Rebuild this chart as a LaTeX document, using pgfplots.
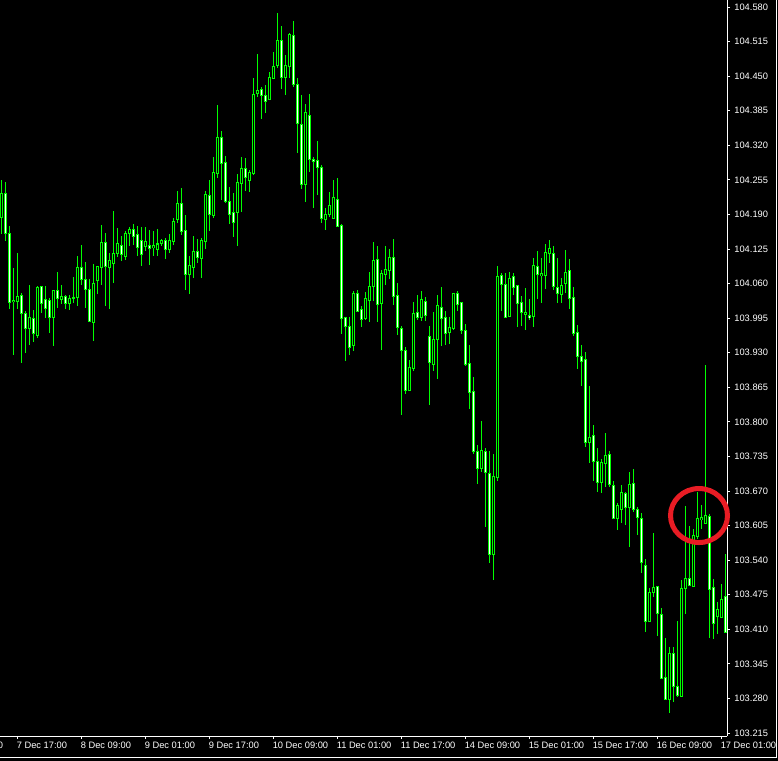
\documentclass[border=0pt]{standalone}
\usepackage{pgfplots}
\pgfplotsset{compat=1.18}
\usepackage{pgfplotstable}
\usepackage{fontspec}
\setmainfont{Liberation Sans}
\definecolor{candle}{RGB}{0,255,0}
\definecolor{ringred}{RGB}{232,28,36}
\pgfplotstableread{
k o h l c
-4 104.185 104.255 104.153 104.230
-3 104.230 104.253 104.142 104.155
-2 104.155 104.170 104.014 104.025
-1 104.027 104.089 103.926 104.029
0 104.027 104.118 104.014 104.037
1 104.039 104.042 103.911 104.005
2 104.005 104.010 103.930 103.977
3 103.975 104.059 103.945 103.997
4 103.995 104.009 103.950 103.967
5 103.963 104.056 103.958 104.054
6 104.056 104.056 104.005 104.024
7 104.031 104.056 103.995 104.014
8 104.029 104.033 103.967 103.997
9 103.997 104.050 103.945 104.048
10 104.048 104.082 104.016 104.033
11 104.031 104.058 104.022 104.037
12 104.037 104.039 104.012 104.024
13 104.024 104.041 104.012 104.033
14 104.033 104.074 104.024 104.033
15 104.033 104.112 104.018 104.091
16 104.091 104.135 104.058 104.069
17 104.069 104.101 104.014 104.050
18 104.050 104.069 103.988 103.990
19 103.988 104.099 103.954 104.061
20 104.065 104.093 104.042 104.093
21 104.091 104.170 104.058 104.138
22 104.138 104.155 104.018 104.093
23 104.091 104.118 104.014 104.103
24 104.099 104.197 104.063 104.118
25 104.118 104.165 104.110 104.135
26 104.133 104.150 104.103 104.116
27 104.112 104.161 104.106 104.155
28 104.155 104.167 104.131 104.163
29 104.163 104.172 104.133 104.150
30 104.153 104.170 104.112 104.127
31 104.142 104.168 104.095 104.114
32 104.131 104.168 104.123 104.140
33 104.133 104.161 104.095 104.127
34 104.127 104.159 104.112 104.131
35 104.125 104.163 104.112 104.136
36 104.136 104.146 104.133 104.142
37 104.142 104.146 104.106 104.125
38 104.125 104.153 104.118 104.142
39 104.140 104.183 104.133 104.176
40 104.180 104.234 104.174 104.210
41 104.212 104.240 104.151 104.159
42 104.161 104.189 104.048 104.078
43 104.078 104.112 104.042 104.095
44 104.091 104.151 104.072 104.121
45 104.121 104.144 104.099 104.110
46 104.108 104.146 104.072 104.142
47 104.140 104.234 104.125 104.228
48 104.227 104.255 104.159 104.191
49 104.189 104.298 104.183 104.270
50 104.268 104.396 104.260 104.336
51 104.336 104.347 104.219 104.287
52 104.289 104.300 104.212 104.215
53 104.215 104.242 104.174 104.191
54 104.195 104.232 104.148 104.176
55 104.195 104.266 104.131 104.251
56 104.249 104.298 104.195 104.276
57 104.276 104.298 104.236 104.260
58 104.255 104.274 104.232 104.270
59 104.268 104.448 104.266 104.417
60 104.418 104.492 104.411 104.424
61 104.426 104.430 104.370 104.415
62 104.415 104.433 104.381 104.403
63 104.407 104.458 104.405 104.448
64 104.447 104.495 104.447 104.469
65 104.471 104.569 104.467 104.518
66 104.518 104.546 104.426 104.448
67 104.448 104.490 104.415 104.471
68 104.469 104.533 104.448 104.529
69 104.527 104.554 104.431 104.435
70 104.435 104.448 104.307 104.362
71 104.360 104.417 104.240 104.247
72 104.247 104.400 104.215 104.381
73 104.377 104.418 104.270 104.294
74 104.294 104.298 104.202 104.291
75 104.292 104.328 104.227 104.279
76 104.279 104.283 104.174 104.182
77 104.182 104.202 104.161 104.191
78 104.191 104.232 104.185 104.208
79 104.183 104.255 104.182 104.223
80 104.219 104.259 104.167 104.168
81 104.170 104.172 103.965 103.994
82 103.997 103.997 103.915 103.980
83 103.980 103.997 103.926 103.941
84 103.943 104.048 103.935 104.041
85 104.042 104.048 104.007 104.009
86 104.012 104.018 103.978 103.994
87 103.994 104.044 103.992 104.033
88 104.029 104.082 103.988 104.056
89 104.056 104.140 104.029 104.104
90 104.106 104.131 103.988 104.022
91 104.024 104.086 103.935 104.080
92 104.078 104.131 104.059 104.086
93 104.086 104.125 104.069 104.110
94 104.110 104.144 104.020 104.037
95 104.039 104.063 103.965 103.978
96 103.978 103.980 103.813 103.935
97 103.935 103.942 103.853 103.860
98 103.860 103.918 103.860 103.903
99 103.900 104.027 103.898 104.005
100 104.005 104.039 103.992 103.997
101 103.997 104.048 103.990 104.031
102 104.027 104.037 103.992 104.001
103 103.962 103.982 103.832 103.913
104 103.909 104.009 103.898 103.956
105 103.956 104.039 103.881 104.020
106 104.016 104.054 103.943 103.995
107 103.997 104.009 103.945 103.967
108 103.969 103.997 103.947 103.978
109 103.977 104.044 103.975 104.042
110 104.042 104.048 104.010 104.022
111 104.025 104.025 103.965 103.971
112 103.973 103.984 103.905 103.909
113 103.911 103.946 103.826 103.856
114 103.856 103.884 103.740 103.743
115 103.745 103.757 103.685 103.713
116 103.713 103.802 103.706 103.747
117 103.745 103.753 103.604 103.706
118 103.704 103.747 103.537 103.552
119 103.550 103.740 103.503 103.698
120 103.696 104.095 103.689 104.074
121 104.076 104.080 104.009 104.059
122 104.059 104.080 103.995 103.997
123 103.999 104.084 103.999 104.072
124 104.074 104.080 104.039 104.054
125 104.056 104.058 103.980 104.022
126 104.025 104.037 103.980 104.005
127 104.003 104.054 103.975 104.007
128 104.001 104.031 103.992 103.997
129 103.999 104.110 103.980 104.095
130 104.093 104.121 104.031 104.078
131 104.076 104.110 104.024 104.080
132 104.076 104.135 104.050 104.119
133 104.118 104.142 104.099 104.127
134 104.116 104.131 104.048 104.054
135 104.054 104.108 104.025 104.041
136 104.041 104.072 104.024 104.058
137 104.059 104.123 104.042 104.080
138 104.086 104.106 104.012 104.033
139 104.033 104.056 103.963 103.967
140 103.969 103.984 103.901 103.924
141 103.924 103.945 103.869 103.915
142 103.918 103.933 103.753 103.762
143 103.762 103.868 103.723 103.772
144 103.775 103.794 103.689 103.727
145 103.727 103.751 103.668 103.687
146 103.687 103.732 103.668 103.725
147 103.723 103.779 103.678 103.738
148 103.738 103.745 103.678 103.681
149 103.681 103.689 103.618 103.619
150 103.619 103.649 103.597 103.644
151 103.636 103.681 103.610 103.668
152 103.666 103.670 103.608 103.640
153 103.640 103.706 103.565 103.683
154 103.685 103.713 103.631 103.636
155 103.636 103.640 103.587 103.621
156 103.619 103.629 103.516 103.535
157 103.531 103.542 103.405 103.426
158 103.426 103.488 103.424 103.480
159 103.480 103.593 103.471 103.490
160 103.492 103.493 103.399 103.441
161 103.439 103.450 103.317 103.320
162 103.320 103.394 103.279 103.279
163 103.279 103.377 103.253 103.366
164 103.366 103.378 103.273 103.304
165 103.304 103.426 103.283 103.287
166 103.285 103.503 103.283 103.488
167 103.488 103.642 103.439 103.507
168 103.507 103.606 103.492 103.493
169 103.492 103.599 103.492 103.587
170 103.585 103.670 103.580 103.619
171 103.617 103.644 103.599 103.621
172 103.610 103.907 103.608 103.625
173 103.623 103.627 103.394 103.486
174 103.490 103.505 103.392 103.422
175 103.433 103.463 103.403 103.446
176 103.433 103.495 103.433 103.467
177 103.471 103.552 103.403 103.405
}\candles
\newcommand{\lblfont}{\fontsize{4.65pt}{5pt}\selectfont}
\begin{document}
\begin{tikzpicture}
\useasboundingbox (0pt,0pt) rectangle (389pt,-380.5pt);
\fill[black] (0pt,0pt) rectangle (389pt,-380.5pt);
\begin{axis}[
  at={(0pt,0pt)}, anchor=north west,
  scale only axis, width=363.5pt, height=368pt,
  xmin=-4.25, xmax=177.5,
  ymin=103.2095, ymax=104.5932,
  axis background/.style={fill=black},
  axis x line*=bottom, axis y line*=right,
  axis line style={white, line width=0.5pt, -},
  every tick/.style={white, line width=0.5pt},
  tick align=outside,
  major tick length=1.5pt,
  scaled x ticks=false, scaled y ticks=false,
  /pgf/number format/assume math mode=true,
  xtick={0,16,32,48,64,80,96,112,128,144,160,176},
  xticklabels={7 Dec 17:00, 8 Dec 09:00, 9 Dec 01:00, 9 Dec 17:00, 10 Dec 09:00, 11 Dec 01:00, 11 Dec 17:00, 14 Dec 09:00, 15 Dec 01:00, 15 Dec 17:00, 16 Dec 09:00, 17 Dec 01:00},
  ytick={103.215,103.280,103.345,103.410,103.475,103.540,103.605,103.670,103.735,103.800,103.865,103.930,103.995,104.060,104.125,104.190,104.255,104.320,104.385,104.450,104.515,104.580},
  yticklabels={103.215,103.280,103.345,103.410,103.475,103.540,103.605,103.670,103.735,103.800,103.865,103.930,103.995,104.060,104.125,104.190,104.255,104.320,104.385,104.450,104.515,104.580},
  xticklabel style={font=\lblfont, text=white, anchor=north west, inner sep=0pt, xshift=-0.3pt, yshift=-1.5pt},
  yticklabel style={font=\lblfont, text=white, anchor=west, inner sep=0pt, xshift=2pt},
]
% wicks
\addplot[draw=none, mark=none,
  error bars/.cd, y dir=both, y explicit, error mark=none,
  error bar style={draw=candle, line width=0.5pt}]
  table[x=k, y expr={(\thisrow{h}+\thisrow{l})/2}, y error expr={(\thisrow{h}-\thisrow{l})/2}] {\candles};
% bodies
\addplot[draw=none, mark=none,
  error bars/.cd, y dir=both, y explicit, error mark=none,
  error bar style={draw=candle, line width=1.5pt}]
  table[x=k, y expr={(\thisrow{o}+\thisrow{c})/2}, y error expr={abs(\thisrow{o}-\thisrow{c})/2+0.00094}] {\candles};
% bear interiors (white)
\addplot[draw=none, mark=none,
  restrict expr to domain={\thisrow{o}-\thisrow{c}}{0.0005:5},
  error bars/.cd, y dir=both, y explicit, error mark=none,
  error bar style={draw=white, line width=0.5pt}]
  table[x=k, y expr={(\thisrow{o}+\thisrow{c})/2}, y error expr={max(abs(\thisrow{o}-\thisrow{c})/2-0.00094,0)}] {\candles};
% bull interiors (black)
\addplot[draw=none, mark=none,
  restrict expr to domain={\thisrow{c}-\thisrow{o}}{0.0005:5},
  error bars/.cd, y dir=both, y explicit, error mark=none,
  error bar style={draw=black, line width=0.5pt}]
  table[x=k, y expr={(\thisrow{o}+\thisrow{c})/2}, y error expr={max(abs(\thisrow{o}-\thisrow{c})/2-0.00094,0)}] {\candles};
\coordinate (ringc) at (axis cs:170.5,103.624);
\end{axis}
\draw[ringred, line width=2.5pt] (ringc) ellipse [x radius=14.25pt, y radius=13.5pt];
\draw[white, line width=0.5pt] (388.25pt,0pt) -- (388.25pt,-378.75pt) -- (0pt,-378.75pt);
\node[font=\lblfont, text=white, anchor=north west, inner sep=0pt] at (-23.8pt,-371pt) {7 Dec 01:00};
\end{tikzpicture}
\end{document}
